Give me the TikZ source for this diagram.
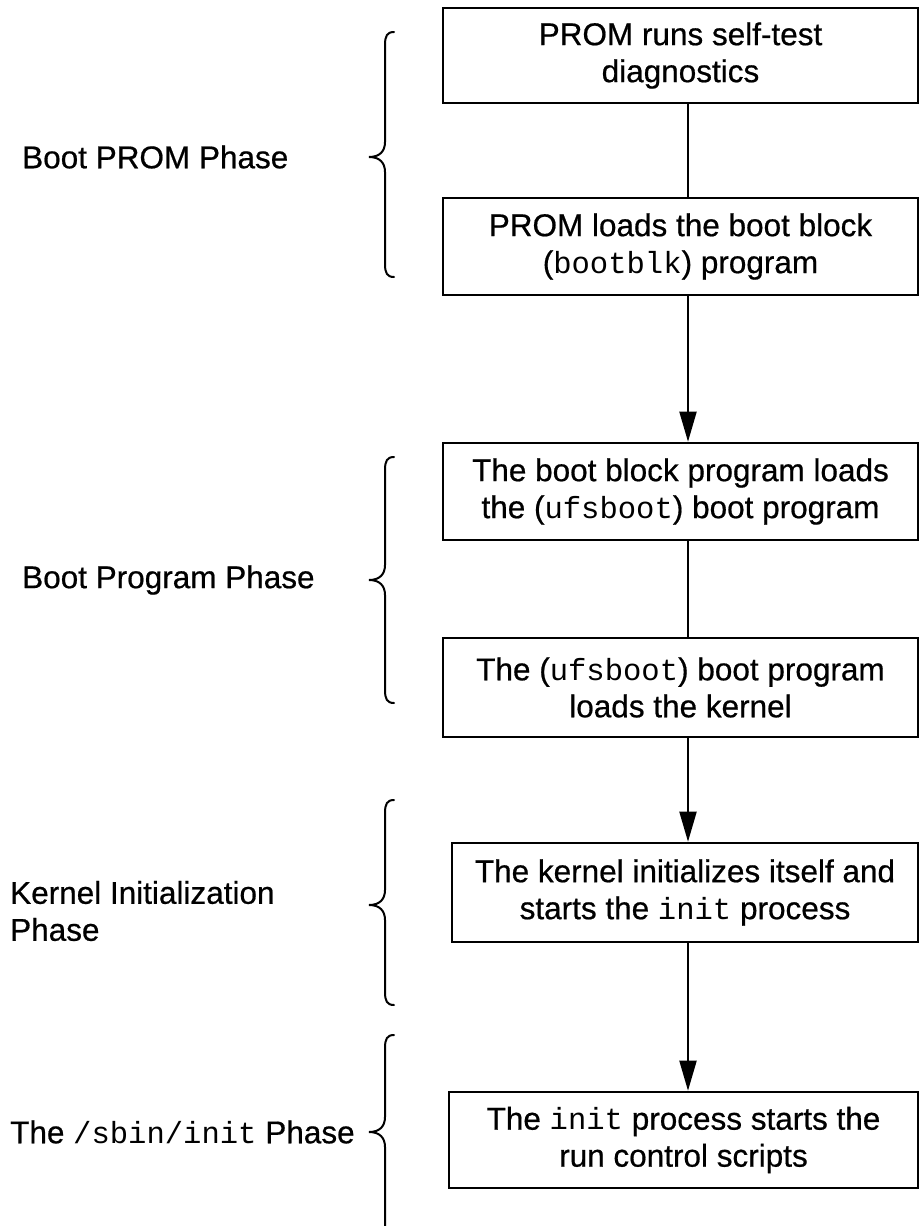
\documentclass[tikz,border=0pt]{standalone}
\usepackage{fontspec}
\setmainfont{Liberation Sans}[FakeBold=0.6]
\setmonofont{Liberation Mono}[Scale=0.97]
\usetikzlibrary{arrows.meta}

% curly brace: #1 top end, #2 tip, #3 bottom end (y values)
\newcommand\phasebrace[3]{%
  \draw[bracestroke] (394,#1) .. controls (387,#1) and (385,#1+4) .. (385,#1+13)
    -- (385,#2-15) .. controls (385,#2-6) and (380,#2) .. (369,#2)
    .. controls (380,#2) and (385,#2+6) .. (385,#2+15)
    -- (385,#3-13) .. controls (385,#3-4) and (387,#3) .. (394,#3);}

\begin{document}
\begin{tikzpicture}[x=1pt,y=-1pt,
  every node/.style={font=\fontsize{31.5}{37}\selectfont},
  stepbox/.style={draw=black, line width=2.6pt, rectangle, inner sep=0pt,
    align=center, minimum height=#1},
  stepbox/.default=97,
  phaselabel/.style={anchor=west, align=left, inner sep=0pt},
  link/.style={draw=black, line width=2pt},
  flow/.style={link, -{Triangle[length=30pt,width=17pt]}},
  bracestroke/.style={draw=black, line width=2pt, line cap=round}]

\clip (0,0) rectangle (920,1226);
\fill[white] (0,0) rectangle (920,1226);

% process steps
\node[stepbox=95, minimum width=475] (b1) at (680.5,55.5)
  {PROM runs self-test\\diagnostics};
\node[stepbox=97, minimum width=475] (b2) at (680.5,246.5)
  {PROM loads the boot block\\(\texttt{bootblk}) program};
\node[stepbox=97, minimum width=475] (b3) at (680.5,491.5)
  {The boot block program loads\\the (\texttt{ufsboot}) boot program};
\node[stepbox=99, minimum width=475] (b4) at (680.5,687.5)
  {The (\texttt{ufsboot}) boot program\\loads the kernel};
\node[stepbox=99, minimum width=466] (b5) at (685,892.5)
  {The kernel initializes itself and\\starts the \texttt{init} process};
\node[stepbox=96, minimum width=469] (b6) at (683.5,1140)
  {The \texttt{init} process starts the\\run control scripts};

% vertical flow line
\coordinate (spine) at (688,0);
\draw[link] (b1.south -| spine) -- (b2.north -| spine);
\draw[flow] (b2.south -| spine) -- (b3.north -| spine);
\draw[link] (b3.south -| spine) -- (b4.north -| spine);
\draw[flow] (b4.south -| spine) -- (b5.north -| spine);
\draw[flow] (b5.south -| spine) -- (b6.north -| spine);

% phase braces
\phasebrace{32}{157}{277}
\phasebrace{457}{580}{703}
\phasebrace{800}{905}{1005}
\phasebrace{1035}{1132}{1240}

% phase names
\node[phaselabel] (p1) at (22,157) {Boot PROM Phase};
\node[phaselabel] (p2) at (22,580) {Boot Program Phase};
\node[phaselabel] (p3) at (10,911) {Kernel Initialization\\Phase};
\node[phaselabel] (p4) at (10,1132) {The \texttt{/sbin/init} Phase};
\end{tikzpicture}
\end{document}
